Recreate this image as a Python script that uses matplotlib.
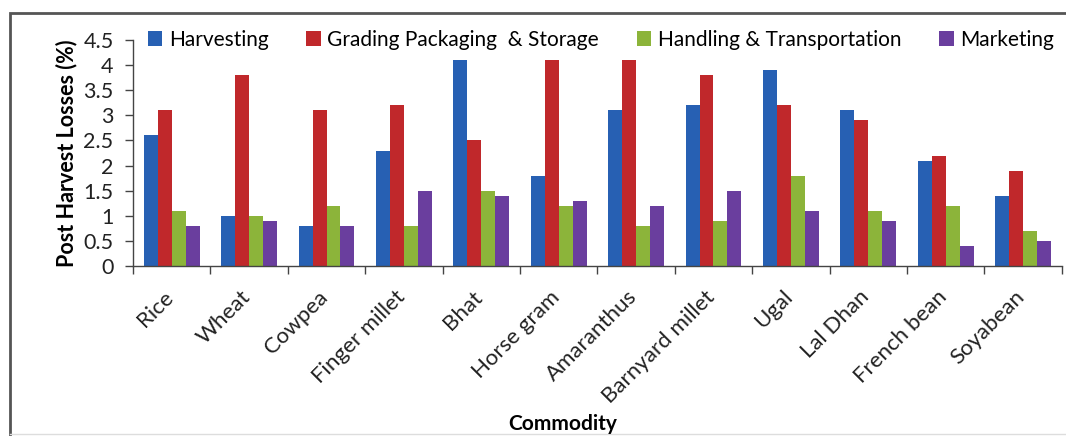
import matplotlib
matplotlib.use("Agg")
import matplotlib.pyplot as plt
import matplotlib.transforms as mtransforms
import numpy as np
from matplotlib.patches import Rectangle
from matplotlib.lines import Line2D

commodities = ["Rice", "Wheat", "Cowpea", "Finger millet", "Bhat", "Horse gram",
               "Amaranthus", "Barnyard millet", "Ugal", "Lal Dhan", "French bean", "Soyabean"]
harvesting = [2.6, 1.0, 0.8, 2.3, 4.1, 1.8, 3.1, 3.2, 3.9, 3.1, 2.1, 1.4]
grading = [3.1, 3.8, 3.1, 3.2, 2.5, 4.1, 4.1, 3.8, 3.2, 2.9, 2.2, 1.9]
handling = [1.1, 1.0, 1.2, 0.8, 1.5, 1.2, 0.8, 0.9, 1.8, 1.1, 1.2, 0.7]
marketing = [0.8, 0.9, 0.8, 1.5, 1.4, 1.3, 1.2, 1.5, 1.1, 0.9, 0.4, 0.5]
series_names = ["Harvesting", "Grading Packaging  & Storage",
                "Handling & Transportation", "Marketing"]
y_ticks = [0, 0.5, 1, 1.5, 2, 2.5, 3, 3.5, 4, 4.5]
y_tick_labels = ["0", "0.5", "1", "1.5", "2", "2.5", "3", "3.5", "4", "4.5"]

colors = ["#2760B3", "#C0282B", "#8CB43A", "#6A3E9E"]

plt.rcParams["font.family"] = ["Lato", "DejaVu Sans"]

fig = plt.figure(figsize=(10.66, 4.36), dpi=100)
ax = fig.add_axes([0.1248, 0.390, 0.8712, 0.518])

x = np.arange(len(commodities))
width = 0.18
series = [harvesting, grading, handling, marketing]
for i, (vals, name, c) in enumerate(zip(series, series_names, colors)):
    ax.bar(x + (i - 1.5) * width, vals, width, color=c, label=name,
           edgecolor="none", zorder=2)

ax.set_xlim(-0.5, len(commodities) - 0.5)
ax.set_ylim(0, 4.5)
ax.set_yticks(y_ticks)
ax.set_yticklabels(y_tick_labels, fontsize=15.5, color="#222222")
ax.tick_params(axis="y", direction="out", length=6, width=1, color="#444444", pad=8)

# category labels, rotated and nudged left of each group centre
ax.set_xticks(x)
ax.set_xticklabels(commodities, rotation=45, ha="right", rotation_mode="anchor",
                   fontsize=16, color="#222222")
ax.tick_params(axis="x", which="major", length=0, pad=15)
shift = mtransforms.ScaledTranslation(-0.09, 0, fig.dpi_scale_trans)
for lbl in ax.get_xticklabels():
    lbl.set_transform(lbl.get_transform() + shift)
ax.set_xticks(np.arange(-0.5, len(commodities)), minor=True)
ax.tick_params(axis="x", which="minor", direction="out", length=6, width=1, color="#444444")

for s in ["top", "right"]:
    ax.spines[s].set_visible(False)
for s in ["left", "bottom"]:
    ax.spines[s].set_color("#444444")
    ax.spines[s].set_linewidth(1)

ax.set_ylabel("Post Harvest Losses (%)", fontsize=15.5, fontweight="bold", labelpad=4)
fig.text(563 / 1066, 1 - 424 / 436, "Commodity", ha="center", va="center",
         fontsize=15, fontweight="bold")

ax.legend(loc="upper left", bbox_to_anchor=(0.016, 1.045), ncol=4, frameon=False,
          fontsize=15, handlelength=0.7, handleheight=0.7, handletextpad=0.3,
          columnspacing=1.82, borderaxespad=0, borderpad=0)

# outer frame around the chart
fig.patches.append(Rectangle((10 / 1066, -0.1), 1.2, (436 - 13) / 436 + 0.1,
                             transform=fig.transFigure, fill=False,
                             edgecolor="#555555", linewidth=2))
fig.lines.append(Line2D([10 / 1066, 1], [1 - 434 / 436] * 2, transform=fig.transFigure,
                        color="#dddddd", linewidth=1))

fig.savefig("out.png", dpi=100)
